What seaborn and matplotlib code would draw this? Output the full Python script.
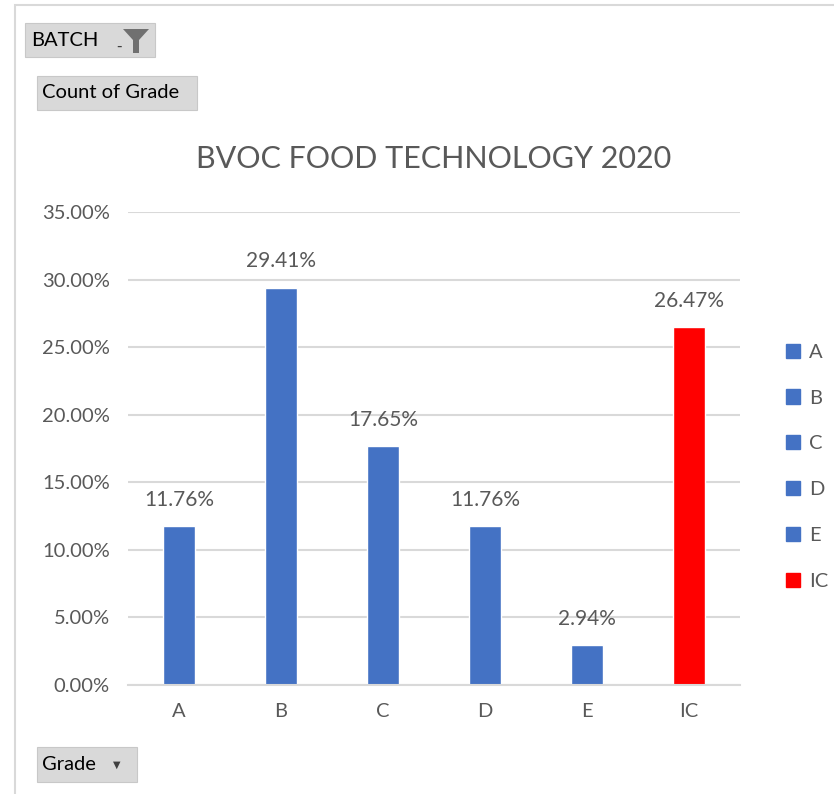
import numpy as np
import pandas as pd
import matplotlib.pyplot as plt
import matplotlib.patches as mpatches
from matplotlib.ticker import PercentFormatter
import seaborn as sns

# data
grades = ['A', 'B', 'C', 'D', 'E', 'IC']
share = [11.76, 29.41, 17.65, 11.76, 2.94, 26.47]
bar_colors = ['#4472C4', '#4472C4', '#4472C4', '#4472C4', '#4472C4', '#FF0000']
y_ticks = [0, 5, 10, 15, 20, 25, 30, 35]

df = pd.DataFrame({'Grade': grades, 'Share': share})
palette = dict(zip(grades, bar_colors))

sns.set_theme(style='white')
plt.rcParams['font.family'] = ['Lato', 'DejaVu Sans']
text_gray = '#595959'

fig = plt.figure(figsize=(8.34, 7.94), dpi=100)
ax = fig.add_axes([0.1535, 0.1373, 0.734, 0.5957])

sns.barplot(data=df, x='Grade', y='Share', hue='Grade', palette=palette,
            dodge=False, width=0.31, saturation=1, legend=False, ax=ax)

for i, v in enumerate(share):
    ax.text(i, v + 1.2, f'{v:.2f}%', ha='center', va='bottom',
            fontsize=15, color=text_gray)

ax.set_ylim(0, 35)
ax.set_xlim(-0.5, len(grades) - 0.5)
ax.set_yticks(y_ticks)
ax.yaxis.set_major_formatter(PercentFormatter(decimals=2))
ax.grid(axis='y', color='#d9d9d9', linewidth=1.5)
ax.set_axisbelow(True)
for s in ['top', 'right', 'left']:
    ax.spines[s].set_visible(False)
ax.spines['bottom'].set_color('#d9d9d9')
ax.spines['bottom'].set_linewidth(1.5)
ax.tick_params(axis='both', length=0, labelsize=14.5, colors=text_gray, pad=13)
ax.set_xlabel('')
ax.set_ylabel('')

ax.set_title('BVOC FOOD TECHNOLOGY 2020', fontsize=22, color=text_gray, pad=32)

# legend on the right
handles = [mpatches.Patch(color=c, label=g) for g, c in zip(grades, bar_colors)]
fig.legend(handles=handles, loc='center left', bbox_to_anchor=(0.921, 0.412),
           frameon=False, fontsize=14.5, labelcolor=text_gray, handlelength=0.7,
           handleheight=0.7, handletextpad=0.45, labelspacing=1.43)

# outer frame of the chart area
fig.patches.append(mpatches.Rectangle((15 / 834, -0.01), 1.0, 1 - 5 / 794 + 0.01,
                                      transform=fig.transFigure, fill=False,
                                      edgecolor='#d9d9d9', linewidth=1.5))

# pivot field buttons
def button(x0, y0, x1, y1, label, tx):
    fig.patches.append(mpatches.Rectangle((x0 / 834, 1 - y1 / 794), (x1 - x0) / 834,
                                          (y1 - y0) / 794, transform=fig.transFigure,
                                          facecolor='#d9d9d9', edgecolor='#c8c8c8',
                                          linewidth=0.8))
    fig.text(tx / 834, 1 - (y0 + y1) / 2 / 794, label, ha='left', va='center',
             fontsize=14.5, color='#000000')

button(25, 23, 155, 57, 'BATCH', 31)
button(37, 76, 197, 110, 'Count of Grade', 42)
button(37, 747, 137, 782, 'Grade', 42)

# funnel icon and arrows
funnel = mpatches.Polygon([(123, 29), (149, 29), (139, 40), (139, 53), (133, 53), (133, 40)],
                          closed=True, facecolor='#707070', edgecolor='none')
funnel.set_transform(fig.dpi_scale_trans)
xy = funnel.get_xy()
funnel.set_xy(np.column_stack([xy[:, 0] / 100, (794 - xy[:, 1]) / 100]))
fig.patches.append(funnel)
fig.text(116 / 834, 1 - 46 / 794, '-', fontsize=11, color='#404040', ha='left', va='center',
         family='DejaVu Sans')
fig.text(113 / 834, 1 - 765 / 794, '▼', fontsize=7, color='#404040', ha='left', va='center',
         family='DejaVu Sans')

fig.savefig('out.png', dpi=100)
